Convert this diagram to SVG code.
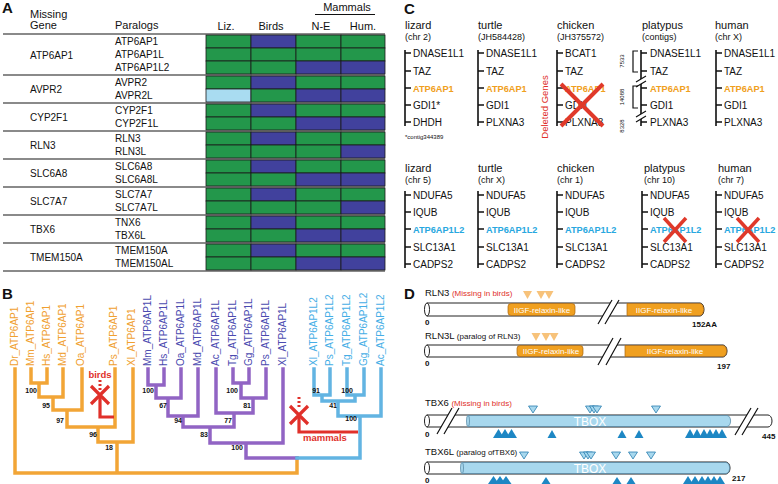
<svg xmlns="http://www.w3.org/2000/svg" width="778" height="484" viewBox="0 0 778 484">
<style>
text{font-family:"Liberation Sans",Arial,sans-serif;fill:#111}
.pl{font-size:15px;font-weight:bold}
.hd{font-size:11px}
.gt{font-size:10px}
.g{fill:#23974b;stroke:#1b1b1b;stroke-width:0.8}
.b{fill:#41419d;stroke:#1b1b1b;stroke-width:0.8}
.lb{fill:#a9dcf1;stroke:#1b1b1b;stroke-width:0.8}
.sep{stroke:#8a8a8a;stroke-width:2}
.or{fill:none;stroke:#f2a536;stroke-width:3.5;stroke-linecap:square}
.pu{fill:none;stroke:#9164c4;stroke-width:3.5;stroke-linecap:square}
.bl{fill:none;stroke:#62b4e2;stroke-width:3.5;stroke-linecap:square}
.rd{fill:none;stroke:#e0302a;stroke-width:3.2}
.rdd{fill:none;stroke:#e0302a;stroke-width:3;stroke-dasharray:2 2}
.lo{font-size:10px;fill:#f0a030}
.lp{font-size:10px;fill:#4b4bb0}
.lc{font-size:10px;fill:#46aee6}
.bs{font-size:7px;font-weight:bold}
.rt{fill:#e0302a;font-weight:bold;font-size:9.5px}
.sp{font-size:11px}
.sub{font-size:9px}
.ln{fill:none;stroke:#111;stroke-width:1.6}
.go{fill:#f0a020;font-weight:bold;font-size:9.2px}
.gc{fill:#28a8e0;font-weight:bold;font-size:9.2px}
.x{fill:none;stroke:#e0392a;stroke-width:4}
.bar{fill:#fff;stroke:#222;stroke-width:1}
.od{fill:#f0a020;stroke:#a86410;stroke-width:0.7}
.bd{fill:#a8d8ee;stroke:#4a7f9e;stroke-width:0.7}
.brk{fill:none;stroke:#111;stroke-width:1.2}
.dt{font-size:8px;fill:#fff}
.tb{font-size:12px;fill:#fff}
.nm{font-size:9.5px}
.nt{font-size:8px}
.red{fill:#e0302a}
.num{font-size:8px;font-weight:bold}
.to{fill:#f7c27a}
.tl{fill:#a8d8ee;stroke:#2a7fb0;stroke-width:0.8}
.td{fill:#1d87c4}
</style>

<!-- ================= Panel A ================= -->
<g id="panelA">
<text class="pl" x="2" y="13">A</text>
<text class="hd" x="30" y="18">Missing</text>
<text class="hd" x="30" y="29">Gene</text>
<text class="hd" x="115" y="29">Paralogs</text>
<text class="hd" x="226" y="30" text-anchor="middle">Liz.</text>
<text class="hd" x="271" y="30" text-anchor="middle">Birds</text>
<text class="hd" x="321" y="30" text-anchor="middle">N-E</text>
<text class="hd" x="363" y="30" text-anchor="middle">Hum.</text>
<text class="hd" x="347" y="11" text-anchor="middle">Mammals</text>
<line x1="315" y1="14.5" x2="375" y2="14.5" stroke="#111" stroke-width="1"/>
<g id="seps">
<line class="sep" x1="3" y1="34" x2="385" y2="34"/>
<line class="sep" x1="3" y1="75" x2="385" y2="75"/>
<line class="sep" x1="3" y1="103" x2="385" y2="103"/>
<line class="sep" x1="3" y1="131" x2="385" y2="131"/>
<line class="sep" x1="3" y1="159" x2="385" y2="159"/>
<line class="sep" x1="3" y1="187" x2="385" y2="187"/>
<line class="sep" x1="3" y1="215" x2="385" y2="215"/>
<line class="sep" x1="3" y1="243" x2="385" y2="243"/>
<line class="sep" x1="3" y1="271" x2="385" y2="271"/>
</g>
<g id="rowATP6AP1">
<text class="gt" x="30" y="58.5">ATP6AP1</text>
<text class="gt" x="115" y="45">ATP6AP1</text>
<text class="gt" x="115" y="58">ATP6AP1L</text>
<text class="gt" x="115" y="71">ATP6AP1L2</text>
<rect class="g" x="206" y="35" width="45" height="13"/><rect class="b" x="251" y="35" width="45" height="13"/><rect class="g" x="296" y="35" width="45" height="13"/><rect class="g" x="341" y="35" width="44" height="13"/>
<rect class="g" x="206" y="48" width="45" height="13"/><rect class="g" x="251" y="48" width="45" height="13"/><rect class="g" x="296" y="48" width="45" height="13"/><rect class="g" x="341" y="48" width="44" height="13"/>
<rect class="g" x="206" y="61" width="45" height="13"/><rect class="g" x="251" y="61" width="45" height="13"/><rect class="b" x="296" y="61" width="45" height="13"/><rect class="b" x="341" y="61" width="44" height="13"/>
</g>
<g id="rowAVPR2">
<text class="gt" x="30" y="93">AVPR2</text>
<text class="gt" x="115" y="86">AVPR2</text>
<text class="gt" x="115" y="99">AVPR2L</text>
<rect class="g" x="206" y="76" width="45" height="13"/><rect class="b" x="251" y="76" width="45" height="13"/><rect class="g" x="296" y="76" width="45" height="13"/><rect class="g" x="341" y="76" width="44" height="13"/>
<rect class="lb" x="206" y="89" width="45" height="13"/><rect class="g" x="251" y="89" width="45" height="13"/><rect class="b" x="296" y="89" width="45" height="13"/><rect class="b" x="341" y="89" width="44" height="13"/>
</g>
<g id="rowCYP2F1">
<text class="gt" x="30" y="121">CYP2F1</text>
<text class="gt" x="115" y="114">CYP2F1</text>
<text class="gt" x="115" y="127">CYP2F1L</text>
<rect class="g" x="206" y="104" width="45" height="13"/><rect class="b" x="251" y="104" width="45" height="13"/><rect class="g" x="296" y="104" width="45" height="13"/><rect class="g" x="341" y="104" width="44" height="13"/>
<rect class="g" x="206" y="117" width="45" height="13"/><rect class="g" x="251" y="117" width="45" height="13"/><rect class="b" x="296" y="117" width="45" height="13"/><rect class="b" x="341" y="117" width="44" height="13"/>
</g>
<g id="rowRLN3">
<text class="gt" x="30" y="149">RLN3</text>
<text class="gt" x="115" y="142">RLN3</text>
<text class="gt" x="115" y="155">RLN3L</text>
<rect class="g" x="206" y="132" width="45" height="13"/><rect class="b" x="251" y="132" width="45" height="13"/><rect class="g" x="296" y="132" width="45" height="13"/><rect class="g" x="341" y="132" width="44" height="13"/>
<rect class="g" x="206" y="145" width="45" height="13"/><rect class="g" x="251" y="145" width="45" height="13"/><rect class="g" x="296" y="145" width="45" height="13"/><rect class="b" x="341" y="145" width="44" height="13"/>
</g>
<g id="rowSLC6A8">
<text class="gt" x="30" y="177">SLC6A8</text>
<text class="gt" x="115" y="170">SLC6A8</text>
<text class="gt" x="115" y="183">SLC6A8L</text>
<rect class="g" x="206" y="160" width="45" height="13"/><rect class="b" x="251" y="160" width="45" height="13"/><rect class="g" x="296" y="160" width="45" height="13"/><rect class="g" x="341" y="160" width="44" height="13"/>
<rect class="g" x="206" y="173" width="45" height="13"/><rect class="g" x="251" y="173" width="45" height="13"/><rect class="b" x="296" y="173" width="45" height="13"/><rect class="b" x="341" y="173" width="44" height="13"/>
</g>
<g id="rowSLC7A7">
<text class="gt" x="30" y="205">SLC7A7</text>
<text class="gt" x="115" y="198">SLC7A7</text>
<text class="gt" x="115" y="211">SLC7A7L</text>
<rect class="g" x="206" y="188" width="45" height="13"/><rect class="b" x="251" y="188" width="45" height="13"/><rect class="g" x="296" y="188" width="45" height="13"/><rect class="g" x="341" y="188" width="44" height="13"/>
<rect class="g" x="206" y="201" width="45" height="13"/><rect class="g" x="251" y="201" width="45" height="13"/><rect class="g" x="296" y="201" width="45" height="13"/><rect class="b" x="341" y="201" width="44" height="13"/>
</g>
<g id="rowTBX6">
<text class="gt" x="30" y="233">TBX6</text>
<text class="gt" x="115" y="226">TNX6</text>
<text class="gt" x="115" y="239">TBX6L</text>
<rect class="g" x="206" y="216" width="45" height="13"/><rect class="b" x="251" y="216" width="45" height="13"/><rect class="g" x="296" y="216" width="45" height="13"/><rect class="g" x="341" y="216" width="44" height="13"/>
<rect class="g" x="206" y="229" width="45" height="13"/><rect class="g" x="251" y="229" width="45" height="13"/><rect class="b" x="296" y="229" width="45" height="13"/><rect class="b" x="341" y="229" width="44" height="13"/>
</g>
<g id="rowTMEM150A">
<text class="gt" x="30" y="261">TMEM150A</text>
<text class="gt" x="115" y="254">TMEM150A</text>
<text class="gt" x="115" y="267">TMEM150AL</text>
<rect class="g" x="206" y="244" width="45" height="13"/><rect class="b" x="251" y="244" width="45" height="13"/><rect class="g" x="296" y="244" width="45" height="13"/><rect class="g" x="341" y="244" width="44" height="13"/>
<rect class="g" x="206" y="257" width="45" height="13"/><rect class="g" x="251" y="257" width="45" height="13"/><rect class="b" x="296" y="257" width="45" height="13"/><rect class="b" x="341" y="257" width="44" height="13"/>
</g>
</g>

<!-- ================= Panel B ================= -->
<g id="panelB">
<text class="pl" x="2" y="299">B</text>
<g id="treeLabels">
<text class="lo" transform="translate(17.5,366) rotate(-90)">Dr_ATP6AP1</text>
<text class="lo" transform="translate(34,366) rotate(-90)">Mm_ATP6AP1</text>
<text class="lo" transform="translate(50,366) rotate(-90)">Hs_ATP6AP1</text>
<text class="lo" transform="translate(66,366) rotate(-90)">Md_ATP6AP1</text>
<text class="lo" transform="translate(84,366) rotate(-90)">Oa_ATP6AP1</text>
<text class="lo" transform="translate(117,366) rotate(-90)">Ps_ATP6AP1</text>
<text class="lo" transform="translate(135,366) rotate(-90)">Xl_ATP6AP1</text>
<text class="lp" transform="translate(151,366) rotate(-90)">Mm_ATP6AP1L</text>
<text class="lp" transform="translate(167,366) rotate(-90)">Hs_ATP6AP1L</text>
<text class="lp" transform="translate(184,366) rotate(-90)">Oa_ATP6AP1L</text>
<text class="lp" transform="translate(201,366) rotate(-90)">Md_ATP6AP1L</text>
<text class="lp" transform="translate(219,366) rotate(-90)">Ac_ATP6AP1L</text>
<text class="lp" transform="translate(236,366) rotate(-90)">Tg_ATP6AP1L</text>
<text class="lp" transform="translate(252,366) rotate(-90)">Gg_ATP6AP1L</text>
<text class="lp" transform="translate(269,366) rotate(-90)">Ps_ATP6AP1L</text>
<text class="lp" transform="translate(286,366) rotate(-90)">Xl_ATP6AP1L</text>
<text class="lc" transform="translate(317,366) rotate(-90)">Xl_ATP6AP1L2</text>
<text class="lc" transform="translate(333,366) rotate(-90)">Ps_ATP6AP1L2</text>
<text class="lc" transform="translate(350,366) rotate(-90)">Tg_ATP6AP1L2</text>
<text class="lc" transform="translate(367,366) rotate(-90)">Gg_ATP6AP1L2</text>
<text class="lc" transform="translate(384,366) rotate(-90)">Ac_ATP6AP1L2</text>
</g>
<g id="connectors">
<path class="or" d="M31,369V383H47V369M39,383V397M63,369V397H39M53,397V410M82,369V410H53M67,410V427M115,369V427H67M98,427V442M133,369V442H98M117,442V473M15,369V473H297V458"/>
<path class="pu" d="M148,369V385H164V369M156,385V398M181,369V398H156M168,398V416M198,369V416H168M183,416V427M233,369V383H249V369M241,383V398M266,369V398H241M253,398V413M216,369V413H253M234,413V427H183M210,427V443M283,369V443H210M246,443V458H297"/>
<path class="bl" d="M314,369V395H330V369M322,395V401M347,369V395H364V369M355,395V401M322,401H355M338,401V416M381,369V416H338M360,416V458H297"/>
<path class="rd" d="M100,395V417H114"/>
<path class="rdd" d="M100,380V392"/>
<path class="rd" d="M91,386L109,404M109,386L91,404"/>
<path class="rd" d="M358,432H299V415"/>
<path class="rdd" d="M299,397V408"/>
<path class="rd" d="M290,406L308,424M308,406L290,424"/>
</g>
<text class="rt" x="100" y="378" text-anchor="middle">birds</text>
<text class="rt" x="303" y="441">mammals</text>
<g id="bootstrap" text-anchor="end">
<text class="bs" x="37" y="393">100</text>
<text class="bs" x="50" y="408">95</text>
<text class="bs" x="64" y="423">97</text>
<text class="bs" x="97" y="437">96</text>
<text class="bs" x="113" y="450">18</text>
<text class="bs" x="154" y="393">100</text>
<text class="bs" x="167" y="408">67</text>
<text class="bs" x="182" y="423">94</text>
<text class="bs" x="208" y="437">83</text>
<text class="bs" x="232" y="423">77</text>
<text class="bs" x="251" y="408">81</text>
<text class="bs" x="238" y="393">100</text>
<text class="bs" x="243" y="450">100</text>
<text class="bs" x="320" y="393">91</text>
<text class="bs" x="353" y="393">100</text>
<text class="bs" x="337" y="408">41</text>
<text class="bs" x="357" y="421">100</text>
</g>
</g>

<!-- ================= Panel C ================= -->
<g id="panelC">
<text class="pl" x="404" y="14">C</text>
<g id="c-lizard1">
<text class="sp" x="405" y="29">lizard</text><text class="sub" x="405" y="40">(chr 2)</text>
<path class="ln" d="M405,50V126M405,53h6M405,71h6M405,88h6M405,105h6M405,122h6"/>
<text class="gt" x="413" y="57">DNASE1L1</text><text class="gt" x="413" y="75">TAZ</text><text class="gt go" x="413" y="92">ATP6AP1</text><text class="gt" x="413" y="109">GDI1*</text><text class="gt" x="413" y="126">DHDH</text>
<text x="405" y="139" style="font-size:6px">*contig344389</text>
</g>
<g id="c-turtle1">
<text class="sp" x="478" y="29">turtle</text><text class="sub" x="478" y="40">(JH584428)</text>
<path class="ln" d="M478,50V126M478,53h6M478,71h6M478,88h6M478,105h6M478,122h6"/>
<text class="gt" x="486" y="57">DNASE1L1</text><text class="gt" x="486" y="75">TAZ</text><text class="gt go" x="486" y="92">ATP6AP1</text><text class="gt" x="486" y="109">GDI1</text><text class="gt" x="486" y="126">PLXNA3</text>
</g>
<text transform="translate(548,107) rotate(-90)" text-anchor="middle" style="font-size:9.5px;fill:#e0302a">Deleted Genes</text>
<g id="c-chicken1">
<text class="sp" x="557" y="29">chicken</text><text class="sub" x="557" y="40">(JH375572)</text>
<path class="ln" d="M557,50V126M557,53h6M557,71h6M557,88h6M557,105h6M557,122h6"/>
<text class="gt" x="565" y="57">BCAT1</text><text class="gt" x="565" y="75">TAZ</text><text class="gt go" x="565" y="92">ATP6AP1</text><text class="gt" x="565" y="109">GDI1</text><text class="gt" x="565" y="126">PLXNA3</text>
<path class="x" d="M561,84L603,126M603,84L561,126"/>
</g>
<g id="c-platypus1">
<text class="sp" x="642" y="29">platypus</text><text class="sub" x="642" y="40">(contigs)</text>
<path class="ln" d="M641,50V126M641,53h6M641,71h6M641,88h6M641,105h6M641,122h6"/>
<path d="M636,82L646,76L646,81L636,87Z M636,117L646,111L646,116L636,122Z" fill="#fff"/>
<path class="brk" d="M636,82L646,76M636,87L646,81M636,117L646,111M636,122L646,116"/>
<path class="brk" d="M638,51H633V72H638M638,86H633V108H638" stroke-width="0.9"/>
<text transform="translate(624,61) rotate(-90)" text-anchor="middle" style="font-size:6px">7533</text>
<text transform="translate(624,97) rotate(-90)" text-anchor="middle" style="font-size:6px">14088</text>
<text transform="translate(624,126) rotate(-90)" text-anchor="middle" style="font-size:6px">8328</text>
<text class="gt" x="650" y="57">DNASE1L1</text><text class="gt" x="650" y="75">TAZ</text><text class="gt go" x="650" y="92">ATP6AP1</text><text class="gt" x="650" y="109">GDI1</text><text class="gt" x="650" y="126">PLXNA3</text>
</g>
<g id="c-human1">
<text class="sp" x="715" y="29">human</text><text class="sub" x="715" y="40">(chr X)</text>
<path class="ln" d="M716,50V126M716,53h6M716,71h6M716,88h6M716,105h6M716,122h6"/>
<text class="gt" x="724" y="57">DNASE1L1</text><text class="gt" x="724" y="75">TAZ</text><text class="gt go" x="724" y="92">ATP6AP1</text><text class="gt" x="724" y="109">GDI1</text><text class="gt" x="724" y="126">PLXNA3</text>
</g>

<g id="c-lizard2">
<text class="sp" x="405" y="172">lizard</text><text class="sub" x="405" y="183">(chr 5)</text>
<path class="ln" d="M405,191V268M405,195h6M405,212h6M405,229h6M405,247h6M405,264h6"/>
<text class="gt" x="413" y="199">NDUFA5</text><text class="gt" x="413" y="216">IQUB</text><text class="gt gc" x="413" y="233">ATP6AP1L2</text><text class="gt" x="413" y="251">SLC13A1</text><text class="gt" x="413" y="268">CADPS2</text>
</g>
<g id="c-turtle2">
<text class="sp" x="478" y="172">turtle</text><text class="sub" x="478" y="183">(chr X)</text>
<path class="ln" d="M478,191V268M478,195h6M478,212h6M478,229h6M478,247h6M478,264h6"/>
<text class="gt" x="486" y="199">NDUFA5</text><text class="gt" x="486" y="216">IQUB</text><text class="gt gc" x="486" y="233">ATP6AP1L2</text><text class="gt" x="486" y="251">SLC13A1</text><text class="gt" x="486" y="268">CADPS2</text>
</g>
<g id="c-chicken2">
<text class="sp" x="557" y="172">chicken</text><text class="sub" x="557" y="183">(chr 1)</text>
<path class="ln" d="M557,191V268M557,195h6M557,212h6M557,229h6M557,247h6M557,264h6"/>
<text class="gt" x="565" y="199">NDUFA5</text><text class="gt" x="565" y="216">IQUB</text><text class="gt gc" x="565" y="233">ATP6AP1L2</text><text class="gt" x="565" y="251">SLC13A1</text><text class="gt" x="565" y="268">CADPS2</text>
</g>
<g id="c-platypus2">
<text class="sp" x="644" y="172">platypus</text><text class="sub" x="644" y="183">(chr 10)</text>
<path class="ln" d="M642,191V268M642,195h6M642,212h6M642,229h6M642,247h6M642,264h6"/>
<text class="gt" x="650" y="199">NDUFA5</text><text class="gt" x="650" y="216">IQUB</text><text class="gt gc" x="650" y="233">ATP6AP1L2</text><text class="gt" x="650" y="251">SLC13A1</text><text class="gt" x="650" y="268">CADPS2</text>
<path class="x" style="stroke-width:3.5" d="M664,218L686,242M686,218L664,242"/>
</g>
<g id="c-human2">
<text class="sp" x="718" y="172">human</text><text class="sub" x="718" y="183">(chr 7)</text>
<path class="ln" d="M716,191V268M716,195h6M716,212h6M716,229h6M716,247h6M716,264h6"/>
<text class="gt" x="724" y="199">NDUFA5</text><text class="gt" x="724" y="216">IQUB</text><text class="gt gc" x="724" y="233">ATP6AP1L2</text><text class="gt" x="724" y="251">SLC13A1</text><text class="gt" x="724" y="268">CADPS2</text>
<path class="x" style="stroke-width:3.5" d="M737,218L759,242M759,218L737,242"/>
</g>
</g>

<!-- ================= Panel D ================= -->
<g id="panelD">
<text class="pl" x="404" y="299">D</text>
<g id="d-rln3">
<text class="nm" x="425" y="296">RLN3 <tspan class="nt red">(Missing in birds)</tspan></text>
<polygon class="to" points="523,291 532,291 527.5,299"/>
<polygon class="to" points="536.5,291 545.5,291 541,299"/>
<polygon class="to" points="544.5,291 553.5,291 549,299"/>
<path class="bar" d="M427,303H700A4,6.5 0 0 1 700,316H427Z"/>
<rect class="od" x="508" y="303.5" width="67" height="12" rx="3"/>
<path class="od" d="M627,303.5H700A3.6,6 0 0 1 700,315.5H627Z"/>
<ellipse class="bar" cx="427" cy="309.5" rx="2.5" ry="6.5"/>
<polygon fill="#fff" points="598,324 612,300 619,300 605,324"/>
<path class="brk" d="M598,324L612,300M605,324L619,300"/>
<text class="dt" x="542" y="312.5" text-anchor="middle">IIGF-relaxin-like</text>
<text class="dt" x="664" y="312.5" text-anchor="middle">IIGF-relaxin-like</text>
<text class="num" x="425" y="325">0</text>
<text class="num" x="692" y="327">152AA</text>
</g>
<g id="d-rln3l">
<text class="nm" x="425" y="339">RLN3L <tspan class="nt">(paralog of RLN3)</tspan></text>
<polygon class="to" points="531.5,333 540.5,333 536,341"/>
<polygon class="to" points="541.5,333 550.5,333 546,341"/>
<polygon class="to" points="549.5,333 558.5,333 554,341"/>
<path class="bar" d="M427,345H723A4,6 0 0 1 723,357H427Z"/>
<rect class="od" x="517" y="345.5" width="66" height="11" rx="3"/>
<path class="od" d="M625,345.5H723A3.6,5.5 0 0 1 723,356.5H625Z"/>
<ellipse class="bar" cx="427" cy="351" rx="2.5" ry="6"/>
<polygon fill="#fff" points="598,365 613,338 621,338 606,365"/>
<path class="brk" d="M598,365L613,338M606,365L621,338"/>
<text class="dt" x="551" y="354" text-anchor="middle">IIGF-relaxin-like</text>
<text class="dt" x="675" y="354" text-anchor="middle">IIGF-relaxin-like</text>
<text class="num" x="425" y="366">0</text>
<text class="num" x="717" y="369">197</text>
</g>
<g id="d-tbx6">
<text class="nm" x="425" y="406">TBX6 <tspan class="nt red">(Missing in birds)</tspan></text>
<path class="bar" d="M427,415H768A4,6 0 0 1 768,427H427Z"/>
<path class="bd" d="M468,415.5H727A3.6,5.5 0 0 1 727,426.5H468Z"/>
<ellipse class="bar" cx="427" cy="421" rx="2.5" ry="6"/>
<ellipse class="bd" cx="468" cy="421" rx="1.5" ry="5.5"/>
<polygon fill="#fff" points="437,434 452,408 459,408 444,434"/>
<path class="brk" d="M437,434L452,408M444,434L459,408"/>
<polygon fill="#fff" points="735,435 751,408 758,408 742,435"/>
<path class="brk" d="M735,435L751,408M742,435L758,408"/>
<text class="tb" x="590" y="425.5" text-anchor="middle">TBOX</text>
<polygon class="tl" points="528.5,406 537.5,406 533,413"/>
<polygon class="tl" points="585.5,406 594.5,406 590,413"/>
<polygon class="tl" points="589.5,406 598.5,406 594,413"/>
<polygon class="tl" points="592.5,406 601.5,406 597,413"/>
<polygon class="tl" points="651.5,406 660.5,406 656,413"/>
<polygon class="td" points="493,438 504,438 498.5,429"/>
<polygon class="td" points="499.5,438 510.5,438 505,429"/>
<polygon class="td" points="506,438 517,438 511.5,429"/>
<polygon class="td" points="547.5,438 556.5,438 552,430"/>
<polygon class="td" points="617.5,438 626.5,438 622,430"/>
<polygon class="td" points="634.5,438 643.5,438 639,430"/>
<polygon class="td" points="685,438 695,438 690,429"/>
<polygon class="td" points="692,438 702,438 697,429"/>
<polygon class="td" points="699,438 709,438 704,429"/>
<polygon class="td" points="705,438 715,438 710,429"/>
<polygon class="td" points="711,438 721,438 716,429"/>
<polygon class="td" points="717,438 727,438 722,429"/>
<text class="num" x="425" y="437">0</text>
<text class="num" x="762" y="439">445</text>
</g>
<g id="d-tbx6l">
<text class="nm" x="425" y="455">TBX6L <tspan class="nt">(paralog ofTBX6)</tspan></text>
<path class="bar" d="M427,462H726A4,6 0 0 1 726,474H427Z"/>
<path class="bd" d="M462,462.5H726A3.6,5.5 0 0 1 726,473.5H462Z"/>
<ellipse class="bar" cx="427" cy="468" rx="2.5" ry="6"/>
<ellipse class="bd" cx="462" cy="468" rx="1.5" ry="5.5"/>
<text class="tb" x="590" y="472.5" text-anchor="middle">TBOX</text>
<polygon class="tl" points="519.5,452 528.5,452 524,459"/>
<polygon class="tl" points="579.5,452 588.5,452 584,459"/>
<polygon class="tl" points="583.5,452 592.5,452 588,459"/>
<polygon class="tl" points="586.5,452 595.5,452 591,459"/>
<polygon class="tl" points="611.5,452 620.5,452 616,459"/>
<polygon class="tl" points="628.5,452 637.5,452 633,459"/>
<polygon class="tl" points="646.5,452 655.5,452 651,459"/>
<polygon class="td" points="488,484 499,484 493.5,476"/>
<polygon class="td" points="494.5,484 505.5,484 500,476"/>
<polygon class="td" points="500.5,484 511.5,484 506,476"/>
<polygon class="td" points="541.5,484 550.5,484 546,477"/>
<polygon class="td" points="612.5,484 621.5,484 617,477"/>
<polygon class="td" points="626.5,484 635.5,484 631,477"/>
<polygon class="td" points="683,484 693,484 688,476"/>
<polygon class="td" points="690,484 700,484 695,476"/>
<polygon class="td" points="697,484 707,484 702,476"/>
<polygon class="td" points="703,484 713,484 708,476"/>
<polygon class="td" points="709,484 719,484 714,476"/>
<polygon class="td" points="715,484 725,484 720,476"/>
<text class="num" x="425" y="483">0</text>
<text class="num" x="732" y="481">217</text>
</g>
</g>
</svg>
